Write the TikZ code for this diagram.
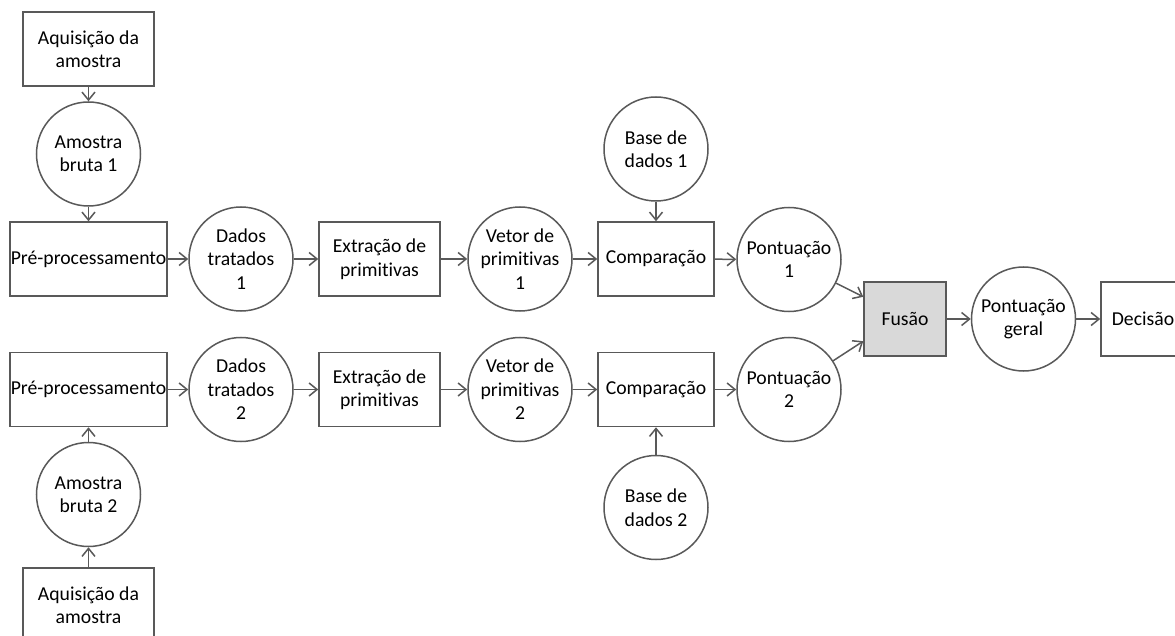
\documentclass[tikz,border=0pt]{standalone}
\usepackage{fontspec}
\setmainfont[Ligatures={NoCommon,NoRare}]{Carlito}
\usetikzlibrary{arrows.meta}
\definecolor{linec}{HTML}{595959}
\definecolor{fusefill}{HTML}{D9D9D9}
\tikzset{
  every node/.style={font=\fontsize{19.7}{23.5}\selectfont, text=black},
  box/.style={draw=linec, line width=1.5pt, rectangle, minimum height=74pt,
              align=center, inner sep=0pt, fill=white},
  disc/.style={draw=linec, line width=1.5pt, circle, minimum size=104pt,
               align=center, inner sep=0pt, fill=white},
  flow/.style={draw=linec, line width=1.5pt,
               -{Straight Barb[length=8pt,width=13pt,line width=1.5pt]}},
}
\begin{document}
\begin{tikzpicture}[x=1pt,y=-1pt]
\clip (0,0) rectangle (1175,636);
\fill[white] (0,0) rectangle (1175,636);

% upper branch
\node[box, minimum width=131pt] (acqA) at (88.5,49) {Aquisição da\\amostra};
\node[disc] (rawA) at (88.5,154) {Amostra\\bruta 1};
\node[box, minimum width=157pt] (preA) at (88.5,259) {Pré-processamento};
\node[disc] (datA) at (241,259) {Dados\\tratados\\1};
\node[box, minimum width=121pt] (extA) at (379.5,259) {Extração de\\primitivas};
\node[disc] (vecA) at (520,259) {Vetor de\\primitivas\\1};
\node[box, minimum width=116pt] (cmpA) at (656,259) {Comparação};
\node[disc] (dbA) at (656,149) {Base de\\dados 1};
\node[disc] (scoA) at (789,259.5) {Pontuação\\1};

% lower branch
\node[box, minimum width=131pt] (acqB) at (88.5,605) {Aquisição da\\amostra};
\node[disc] (rawB) at (88.5,494.5) {Amostra\\bruta 2};
\node[box, minimum width=157pt] (preB) at (88.5,389.5) {Pré-processamento};
\node[disc] (datB) at (241,389.5) {Dados\\tratados\\2};
\node[box, minimum width=121pt] (extB) at (379.5,389.5) {Extração de\\primitivas};
\node[disc] (vecB) at (520,389.5) {Vetor de\\primitivas\\2};
\node[box, minimum width=116pt] (cmpB) at (656,389.5) {Comparação};
\node[disc] (dbB) at (656,507.5) {Base de\\dados 2};
\node[disc] (scoB) at (789,389.5) {Pontuação\\2};

% fusion and decision
\node[box, minimum width=82pt, fill=fusefill] (fus) at (905,319) {Fusão};
\node[disc] (gen) at (1023.5,319) {Pontuação\\geral};
\node[box, minimum width=84pt] (dec) at (1143,319) {Decisão};

% connectors, upper branch
\draw[flow] (acqA) -- (rawA);
\draw[flow] (rawA) -- (preA);
\draw[flow] (preA) -- (datA);
\draw[flow] (datA) -- (extA);
\draw[flow] (extA) -- (vecA);
\draw[flow] (vecA) -- (cmpA);
\draw[flow] (dbA) -- (cmpA);
\draw[flow] (cmpA) -- (scoA);

% connectors, lower branch
\draw[flow] (acqB) -- (rawB);
\draw[flow] (rawB) -- (preB);
\draw[flow] (preB) -- (datB);
\draw[flow] (datB) -- (extB);
\draw[flow] (extB) -- (vecB);
\draw[flow] (vecB) -- (cmpB);
\draw[flow] (dbB) -- (cmpB);
\draw[flow] (cmpB) -- (scoB);

% merging
\draw[flow] (scoA) -- (fus.152);
\draw[flow] (scoB) -- (fus.208);
\draw[flow] (fus) -- (gen);
\draw[flow] (gen) -- (dec);
\end{tikzpicture}
\end{document}
